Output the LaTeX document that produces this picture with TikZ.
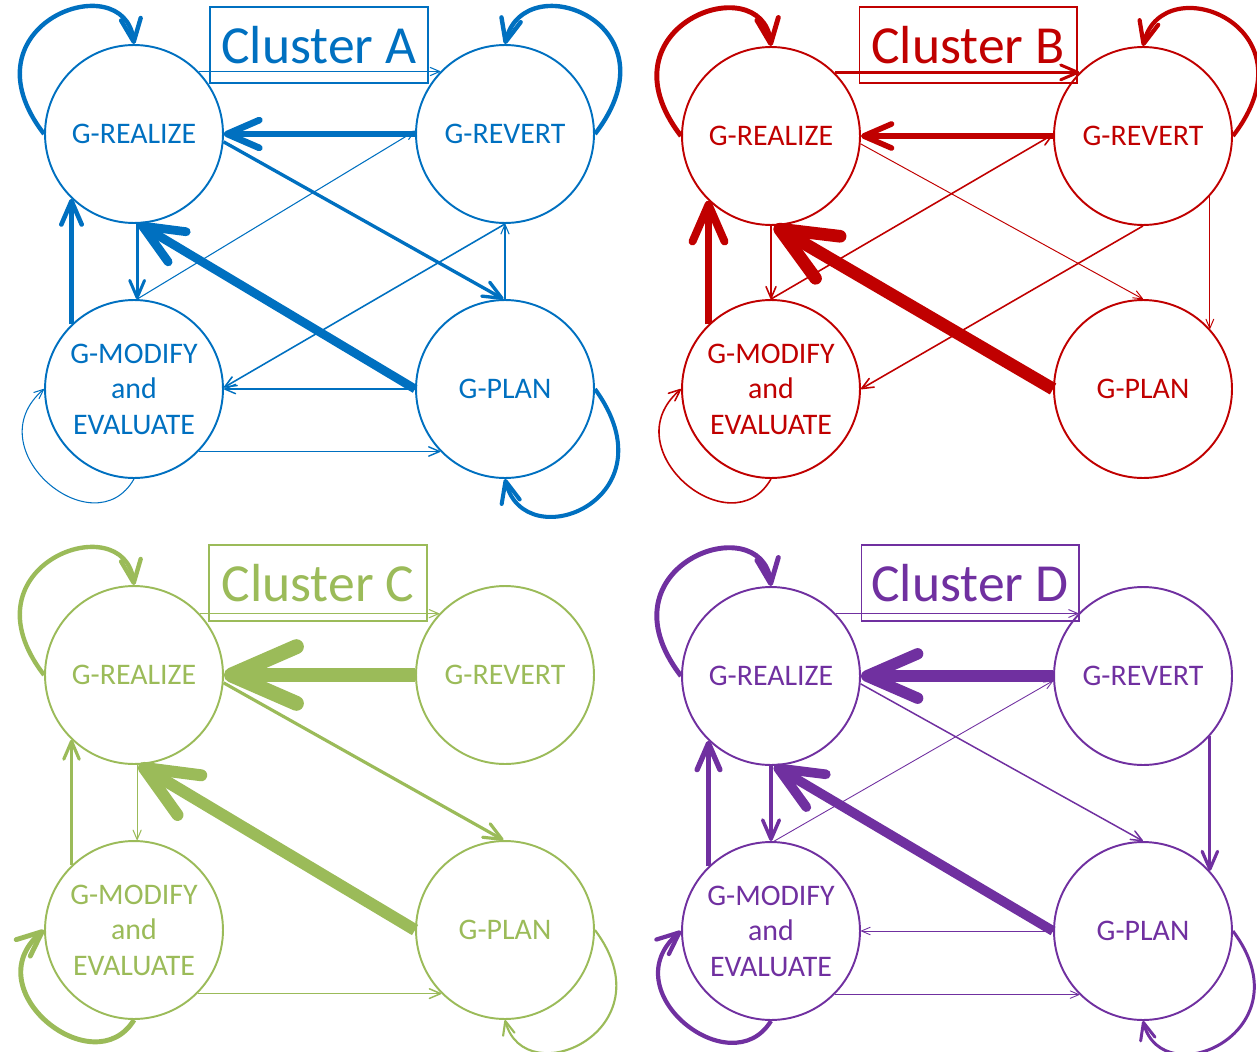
\documentclass[tikz,border=0pt]{standalone}
\usepackage{fontspec}
\setmainfont{Carlito}
\usepackage{tikz}
\usetikzlibrary{arrows.meta,positioning}
\definecolor{clusterA}{RGB}{0,112,192}
\definecolor{clusterB}{RGB}{192,0,0}
\definecolor{clusterC}{RGB}{155,187,89}
\definecolor{clusterD}{RGB}{112,48,160}

\tikzset{
    state/.style={circle, draw, line width=1.1pt, minimum size=3.56cm, inner sep=0pt,
        align=center, font=\fontsize{17}{20.2}\selectfont},
    clbox/.style={draw, line width=0.6pt, minimum width=4.36cm, minimum height=1.52cm,
        inner sep=0pt, font=\fontsize{30.5}{36}\selectfont},
    flow/.style={-{Straight Barb[round,length=3pt 4,width=2.5pt 3.5]}, line width=#1},
}

\begin{document}
\begin{tikzpicture}[x=0.02cm, y=-0.02cm]
    \useasboundingbox (0,0) rectangle (1257,1051);

    % Cluster A (top left)
    \begin{scope}[clusterA]
        \node[clbox] (titleA) at (319,45) {Cluster A};
        \node[state] (realA) at (134,134) {G-REALIZE};
        \node[state] (revA) at (505,134) {G-REVERT};
        \node[state] (modA) at (134,389) {G-MODIFY\\and\\EVALUATE};
        \node[state] (planA) at (505,389) {G-PLAN};

        \draw[flow=0.6pt] (realA.44) -- (revA.136);
        \draw[flow=3.8pt] (revA.180) -- (realA.0);
        \draw[flow=1.9pt] (realA.-5) -- (planA.91);
        \draw[flow=5pt] (planA.180) -- (realA.-87);
        \draw[flow=0.6pt] (modA.88) -- (revA.178);
        \draw[flow=0.9pt] (revA.-90) -- (modA.1);
        \draw[flow=0.6pt] (planA.90) -- (revA.-90);
        \draw[flow=0.8pt] (planA.180) -- (modA.0);
        \draw[flow=0.8pt] (modA.-44) -- (planA.-136);
        \draw[flow=2.6pt] (modA.134) -- (realA.-134);
        \draw[flow=1.7pt] (realA.-88) -- (modA.88);
        % self loops
        \draw[flow=2.5pt] (realA.180) .. controls +(-85,-110) and +(-10,-80) .. (realA.90);
        \draw[flow=2.5pt] (revA.0) .. controls +(85,-110) and +(20,-80) .. (revA.90);
        \draw[flow=2.3pt] (planA.0) .. controls +(80,110) and +(20,80) .. (planA.-90);
        \draw[flow=0.6pt] (modA.-90) .. controls +(-40,70) and +(-70,60) .. (modA.180);
    \end{scope}

    % Cluster B (top right)
    \begin{scope}[clusterB]
        \node[clbox] (titleB) at (968,45) {Cluster B};
        \node[state] (realB) at (771,136) {G-REALIZE};
        \node[state] (revB) at (1143,136) {G-REVERT};
        \node[state] (modB) at (771,389) {G-MODIFY\\and\\EVALUATE};
        \node[state] (planB) at (1143,389) {G-PLAN};

        \draw[flow=1.7pt] (realB.45) -- (revB.135);
        \draw[flow=3.2pt] (revB.180) -- (realB.0);
        \draw[flow=0.55pt] (realB.-5) -- (planB.90);
        \draw[flow=7.2pt] (planB.180) -- (realB.-88);
        \draw[flow=0.9pt] (modB.90) -- (revB.179);
        \draw[flow=0.9pt] (revB.-90) -- (modB.0);
        \draw[flow=0.55pt] (revB.-42) -- (planB.42);
        \draw[flow=4.5pt] (modB.134) -- (realB.-134);
        \draw[flow=0.9pt] (realB.-90) -- (modB.90);
        % self loops
        \draw[flow=2.8pt] (realB.180) .. controls +(-85,-110) and +(-10,-80) .. (realB.90);
        \draw[flow=2.4pt] (revB.0) .. controls +(85,-110) and +(20,-80) .. (revB.90);
        \draw[flow=0.9pt] (modB.-90) .. controls +(-40,70) and +(-70,60) .. (modB.180);
    \end{scope}

    % Cluster C (bottom left)
    \begin{scope}[clusterC]
        \node[clbox] (titleC) at (318,583) {Cluster C};
        \node[state] (realC) at (134,675) {G-REALIZE};
        \node[state] (revC) at (505,675) {G-REVERT};
        \node[state] (modC) at (134,930) {G-MODIFY\\and\\EVALUATE};
        \node[state] (planC) at (505,930) {G-PLAN};

        \draw[flow=0.6pt] (realC.43) -- (revC.137);
        \draw[flow=8.5pt] (revC.180) -- (realC.0);
        \draw[flow=1.8pt] (realC.-5) -- (planC.91);
        \draw[flow=6.8pt] (planC.180) -- (realC.-87);
        \draw[flow=0.85pt] (modC.-45) -- (planC.-135);
        \draw[flow=1.8pt] (modC.134) -- (realC.-134);
        \draw[flow=0.6pt] (realC.-88) -- (modC.88);
        % self loops
        \draw[flow=2.5pt] (realC.180) .. controls +(-85,-110) and +(-10,-80) .. (realC.90);
        \draw[flow=1.2pt] (planC.0) .. controls +(75,100) and +(20,75) .. (planC.-90);
        \draw[flow=2.8pt] (modC.-90) .. controls +(-40,65) and +(-70,60) .. (modC.180);
    \end{scope}

    % Cluster D (bottom right)
    \begin{scope}[clusterD]
        \node[clbox] (titleD) at (970,583) {Cluster D};
        \node[state] (realD) at (771,676) {G-REALIZE};
        \node[state] (revD) at (1143,676) {G-REVERT};
        \node[state] (modD) at (771,931) {G-MODIFY\\and\\EVALUATE};
        \node[state] (planD) at (1143,931) {G-PLAN};

        \draw[flow=0.55pt] (realD.44) -- (revD.136);
        \draw[flow=6.5pt] (revD.180) -- (realD.0);
        \draw[flow=0.85pt] (realD.-5) -- (planD.90);
        \draw[flow=5.5pt] (planD.180) -- (realD.-88);
        \draw[flow=0.5pt] (modD.88) -- (revD.183);
        \draw[flow=1.8pt] (revD.-42) -- (planD.42);
        \draw[flow=0.5pt] (planD.180) -- (modD.0);
        \draw[flow=0.5pt] (modD.-45) -- (planD.-135);
        \draw[flow=3pt] (modD.134) -- (realD.-134);
        \draw[flow=2pt] (realD.-90) -- (modD.90);
        % self loops
        \draw[flow=2.8pt] (realD.180) .. controls +(-85,-110) and +(-10,-80) .. (realD.90);
        \draw[flow=1.7pt] (planD.0) .. controls +(75,100) and +(20,75) .. (planD.-90);
        \draw[flow=2.4pt] (modD.-90) .. controls +(-40,65) and +(-70,60) .. (modD.180);
    \end{scope}
\end{tikzpicture}
\end{document}
